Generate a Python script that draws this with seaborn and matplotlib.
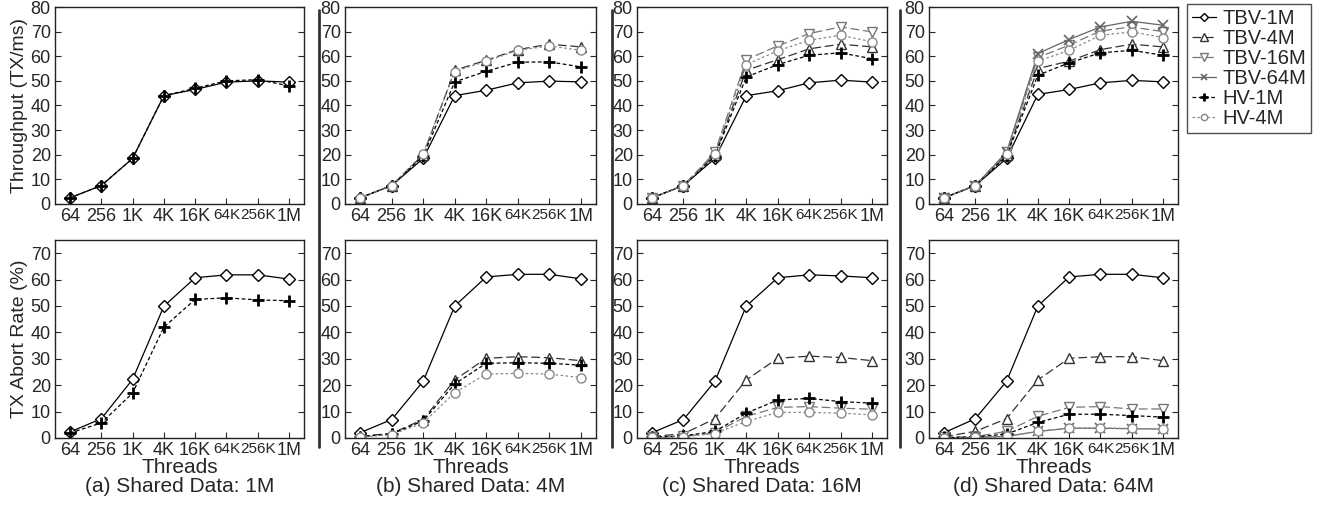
import numpy as np
import pandas as pd
import matplotlib
matplotlib.use("Agg")
import matplotlib.pyplot as plt
from matplotlib.lines import Line2D
import seaborn as sns

# x axis: number of threads
threads = ["64", "256", "1K", "4K", "16K", "64K", "256K", "1M"]

# throughput (TX/ms), one dict per panel
tp_a = {
    "TBV-1M": [2.5, 7.5, 18.5, 44.0, 46.5, 49.5, 50.0, 49.5],
    "HV-1M": [2.5, 7.5, 18.5, 44.0, 47.0, 50.0, 50.5, 48.0],
}
tp_b = {
    "TBV-1M": [2.5, 7.5, 18.5, 44.0, 46.2, 49.2, 49.9, 49.6],
    "TBV-4M": [2.5, 7.5, 20.0, 54.3, 58.4, 62.7, 64.9, 63.8],
    "HV-1M": [2.5, 7.5, 19.5, 49.6, 53.9, 57.6, 57.7, 55.7],
    "HV-4M": [2.5, 7.5, 20.5, 53.8, 58.0, 62.4, 64.2, 62.4],
}
tp_c = {
    "TBV-1M": [2.5, 7.5, 18.5, 44.0, 46.0, 49.2, 50.3, 49.5],
    "TBV-4M": [2.5, 7.5, 20.0, 54.3, 58.6, 63.0, 64.9, 63.8],
    "TBV-16M": [2.5, 7.5, 21.0, 58.6, 64.2, 69.2, 71.9, 69.9],
    "HV-1M": [2.5, 7.5, 19.5, 51.6, 56.6, 60.4, 61.4, 59.0],
    "HV-4M": [2.5, 7.5, 20.5, 56.6, 62.2, 66.5, 68.5, 65.9],
}
tp_d = {
    "TBV-1M": [2.5, 7.5, 18.5, 44.5, 46.5, 49.2, 50.2, 49.6],
    "TBV-4M": [2.5, 7.5, 20.0, 55.0, 58.0, 62.7, 64.9, 63.8],
    "TBV-16M": [2.5, 7.5, 21.0, 59.5, 64.5, 70.3, 71.9, 70.0],
    "TBV-64M": [2.5, 7.5, 21.0, 61.1, 66.8, 71.9, 74.2, 72.6],
    "HV-1M": [2.5, 7.5, 19.5, 52.3, 57.3, 61.4, 62.4, 60.4],
    "HV-4M": [2.5, 7.5, 20.5, 58.0, 62.4, 68.5, 69.9, 67.6],
}

# transaction abort rate (%), one dict per panel
ab_a = {
    "TBV-1M": [2.3, 7.3, 22.2, 49.9, 60.7, 61.8, 61.8, 60.2],
    "HV-1M": [1.9, 5.7, 17.0, 42.0, 52.5, 53.1, 52.3, 52.0],
}
ab_b = {
    "TBV-1M": [2.0, 7.0, 21.5, 50.0, 61.0, 62.0, 62.0, 60.3],
    "TBV-4M": [0.6, 1.8, 7.0, 22.0, 30.2, 30.8, 30.4, 29.3],
    "HV-1M": [0.5, 1.5, 6.5, 20.5, 28.3, 28.5, 28.3, 27.6],
    "HV-4M": [0.3, 1.3, 5.7, 17.2, 24.2, 24.5, 24.2, 22.9],
}
ab_c = {
    "TBV-1M": [2.0, 7.0, 21.5, 50.0, 60.7, 61.8, 61.4, 60.7],
    "TBV-4M": [0.6, 1.6, 7.3, 22.0, 30.2, 31.0, 30.5, 29.3],
    "TBV-16M": [0.2, 0.6, 2.0, 8.2, 11.6, 11.9, 11.3, 10.9],
    "HV-1M": [0.3, 0.8, 2.5, 9.4, 14.4, 15.0, 13.8, 13.2],
    "HV-4M": [0.2, 0.5, 1.7, 6.3, 9.7, 9.7, 9.4, 8.8],
}
ab_d = {
    "TBV-1M": [2.0, 7.3, 21.5, 50.0, 61.0, 62.0, 62.0, 60.7],
    "TBV-4M": [0.5, 2.5, 7.3, 22.0, 30.2, 30.8, 30.8, 29.3],
    "TBV-16M": [0.2, 0.5, 2.5, 8.2, 11.6, 11.9, 11.0, 11.0],
    "TBV-64M": [0.1, 0.2, 0.6, 2.5, 3.7, 3.7, 3.5, 3.4],
    "HV-1M": [0.2, 0.4, 1.5, 5.9, 9.0, 9.0, 8.5, 7.9],
    "HV-4M": [0.1, 0.2, 0.6, 2.5, 3.8, 3.8, 3.6, 3.5],
}

captions = ["(a) Shared Data: 1M", "(b) Shared Data: 4M",
            "(c) Shared Data: 16M", "(d) Shared Data: 64M"]

# line / marker style for every series
styles = {
    "TBV-1M": dict(color="#000000", marker="D", ls="-", ms=6.5, mew=1.0, mfc="white"),
    "TBV-4M": dict(color="#333333", marker="^", ls=(0, (7, 3)), ms=7.5, mew=1.0, mfc="white"),
    "TBV-16M": dict(color="#777777", marker="v", ls=(0, (7, 3)), ms=7.5, mew=1.0, mfc="white"),
    "TBV-64M": dict(color="#666666", marker="x", ls="-", ms=7, mew=1.2, mfc="white"),
    "HV-1M": dict(color="#000000", marker="+", ls=(0, (3, 2)), ms=9, mew=2.0, mfc="white"),
    "HV-4M": dict(color="#888888", marker="o", ls=(0, (2, 2)), ms=6.5, mew=1.0, mfc="white"),
}

sns.set_style("ticks")
plt.rcParams["font.family"] = ["Liberation Sans", "DejaVu Sans"]

W, H = 1325, 512
fig = plt.figure(figsize=(W / 100, H / 100), dpi=100)

col_px = [(55, 304), (345, 596), (637, 887), (929, 1178)]
row_px = [(7, 204), (240, 438)]


def px_rect(x0, x1, y0, y1):
    return [x0 / W, 1 - y1 / H, (x1 - x0) / W, (y1 - y0) / H]


def draw_panel(ax, data, ymax, yticks):
    xs = np.arange(len(threads))
    for name, vals in data.items():
        st = styles[name]
        sns.lineplot(x=xs, y=vals, ax=ax, color=st["color"], linestyle=st["ls"],
                     linewidth=0.9, marker=st["marker"], markersize=st["ms"],
                     markeredgewidth=st["mew"], markerfacecolor=st["mfc"],
                     markeredgecolor=st["color"], label=name, legend=False)
    ax.set_xlim(-0.48, len(threads) - 0.52)
    ax.set_ylim(0, ymax)
    ax.set_yticks(yticks)
    ax.set_xticks(xs)
    ax.set_xticklabels(threads)
    for lab in ax.get_xticklabels():
        if lab.get_text() in ("64K", "256K"):
            lab.set_fontsize(11)
        else:
            lab.set_fontsize(13)
    ax.tick_params(axis="y", labelsize=13, direction="in", length=4,
                   right=True, pad=3)
    ax.tick_params(axis="x", direction="in", length=4, pad=3)
    for sp in ax.spines.values():
        sp.set_visible(True)
        sp.set_color("#222222")
        sp.set_linewidth(1.0)
    ax.set_ylabel("")
    ax.set_xlabel("")


tp_panels = [tp_a, tp_b, tp_c, tp_d]
ab_panels = [ab_a, ab_b, ab_c, ab_d]

for i, (x0, x1) in enumerate(col_px):
    ax_t = fig.add_axes(px_rect(x0, x1, *row_px[0]))
    draw_panel(ax_t, tp_panels[i], 80, np.arange(0, 81, 10))
    ax_b = fig.add_axes(px_rect(x0, x1, *row_px[1]))
    draw_panel(ax_b, ab_panels[i], 75, np.arange(0, 71, 10))
    ax_b.set_xlabel("Threads", fontsize=15, labelpad=-1)
    if i == 0:
        ax_t.set_ylabel("Throughput (TX/ms)", fontsize=14, labelpad=2)
        ax_b.set_ylabel("TX Abort Rate (%)", fontsize=14, labelpad=2)
    fig.text((x0 + x1) / 2 / W, 1 - 487 / H, captions[i], fontsize=15,
             ha="center", va="center")
    if i == 3:
        handles, labels = ax_t.get_legend_handles_labels()

# vertical separators between the panel columns
for xs_px in (319, 612, 900):
    fig.add_artist(Line2D([xs_px / W, xs_px / W], [1 - 10 / H, 1 - 447 / H],
                          color="#333333", linewidth=2.0))

fig.legend(handles, labels, loc="upper left",
           bbox_to_anchor=(1187 / W, 1 - 4 / H), fontsize=14.5,
           frameon=True, fancybox=False, edgecolor="#222222",
           handlelength=1.2, handletextpad=0.3, labelspacing=0.05,
           borderpad=0.25, borderaxespad=0, markerscale=0.7)

fig.savefig("out.png", dpi=100)
